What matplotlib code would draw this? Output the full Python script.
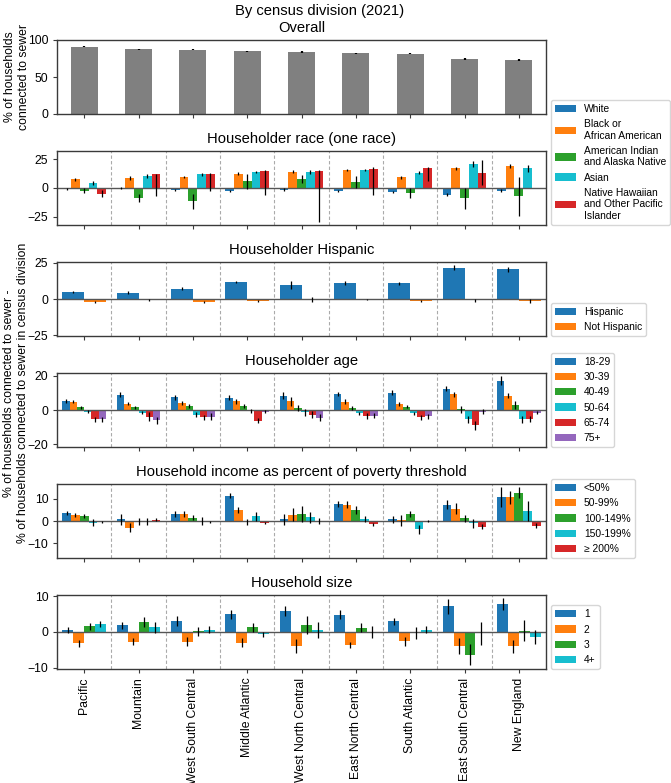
import numpy as np
import matplotlib
matplotlib.use("Agg")
import matplotlib.pyplot as plt

plt.rcParams['font.family'] = ['Liberation Sans', 'DejaVu Sans']
plt.rcParams['font.size'] = 8.85
plt.rcParams['axes.titlesize'] = 10.6
plt.rcParams['axes.unicode_minus'] = True

divisions = ["Pacific", "Mountain", "West South Central", "Middle Atlantic",
             "West North Central", "East North Central", "South Atlantic",
             "East South Central", "New England"]

overall = [91.0, 87.5, 87.0, 84.5, 84.0, 82.0, 81.5, 74.5, 72.5]
overall_err = [0.8, 0.8, 0.8, 0.8, 1.3, 0.8, 0.8, 1.2, 1.2]

race_labels = ["White", "Black or\nAfrican American", "American Indian\nand Alaska Native",
               "Asian", "Native Hawaiian\nand Other Pacific\nIslander"]
race_white = [-1.0, -0.3, -2.0, -2.9, -1.4, -2.9, -3.4, -5.7, -2.3]
race_black = [7.5, 8.6, 9.5, 12.6, 14.4, 15.8, 9.2, 17.2, 19.3]
race_aian = [-2.3, -8.6, -11.5, 5.7, 7.8, 5.2, -4.3, -8.9, -7.2]
race_asian = [4.5, 10.6, 11.8, 14.1, 13.8, 15.8, 13.5, 20.7, 17.2]
race_nhpi = [-5.0, 12.1, 12.1, 14.7, 15.2, 16.7, 17.2, 13.5, np.nan]
race_white_err = [0.6, 0.8, 1.0, 1.0, 1.0, 1.0, 1.0, 1.5, 1.0]
race_black_err = [1.0, 2.0, 1.2, 1.0, 1.0, 0.8, 1.0, 1.5, 2.0]
race_aian_err = [2.0, 3.5, 6.5, 6.6, 3.7, 5.0, 4.0, 9.0, 17.0]
race_asian_err = [1.5, 2.0, 1.0, 1.0, 2.0, 1.0, 1.5, 2.5, 3.0]
race_nhpi_err_lo = [3.0, 19.3, 15.0, 21.0, 44.8, 23.0, 11.5, 11.2, np.nan]
race_nhpi_err_hi = [3.0, 0.4, 0.9, 0.8, 0.8, 1.3, 1.3, 11.2, np.nan]

hisp_labels = ["Hispanic", "Not Hispanic"]
hisp_yes = [4.9, 4.2, 7.2, 11.8, 9.7, 11.1, 10.9, 21.6, 20.6]
hisp_no = [-1.9, -0.9, -2.1, -1.4, -0.3, -0.2, -1.4, -0.9, -1.4]
hisp_yes_err = [0.8, 1.0, 1.0, 0.8, 3.0, 1.2, 1.0, 1.8, 1.8]
hisp_no_err = [0.8, 0.8, 1.0, 0.8, 1.5, 0.5, 1.0, 1.0, 1.3]

age_labels = ["18-29", "30-39", "40-49", "50-64", "65-74", "75+"]
age_18 = [5.3, 8.8, 7.3, 7.1, 8.2, 9.2, 10.0, 12.4, 17.0]
age_30 = [4.9, 3.7, 4.1, 5.1, 5.1, 4.7, 3.5, 9.2, 8.2]
age_40 = [1.6, 1.6, 2.2, 2.4, 1.2, 1.2, 2.0, 0.4, 2.9]
age_50 = [-1.0, -1.6, -2.7, -0.5, -1.4, -2.0, -2.0, -5.3, -5.3]
age_65 = [-5.5, -3.9, -4.3, -6.3, -2.7, -3.5, -4.3, -9.0, -5.3]
age_75 = [-5.3, -5.9, -3.9, -1.0, -4.5, -3.3, -3.7, -1.0, -1.6]
age_18_err = [1.0, 1.5, 1.5, 1.5, 2.0, 1.0, 1.5, 1.5, 2.5]
age_30_err = [0.8, 1.0, 1.0, 1.5, 2.5, 1.5, 1.0, 1.5, 1.5]
age_40_err = [0.8, 1.0, 1.0, 1.0, 1.5, 1.0, 1.0, 2.0, 2.5]
age_50_err = [1.0, 1.0, 1.5, 1.0, 2.0, 1.0, 1.0, 2.0, 2.0]
age_65_err = [1.5, 2.5, 1.5, 1.5, 2.0, 1.5, 1.5, 2.5, 1.8]
age_75_err = [1.5, 2.0, 2.0, 1.0, 2.0, 1.5, 1.5, 1.5, 1.0]

inc_labels = ["<50%", "50-99%", "100-149%", "150-199%", "\u2265 200%"]
inc_50 = [3.5, 0.8, 3.1, 11.5, 0.8, 7.7, 0.8, 7.4, 10.8]
inc_99 = [2.8, -3.1, 3.1, 5.0, 2.8, 7.4, 0.3, 5.5, 10.8]
inc_149 = [2.3, -0.3, 1.5, -0.5, 3.1, 5.0, 3.1, 1.2, 12.8]
inc_199 = [-0.8, -0.3, 0.0, 2.1, 1.7, 0.9, -3.7, -1.1, 4.6]
inc_200 = [-0.6, 0.6, -0.6, -0.9, 0.0, -1.5, 0.0, -2.6, -2.2]
inc_50_err = [1.0, 2.5, 1.5, 1.2, 2.5, 1.2, 1.5, 2.0, 4.5]
inc_99_err = [1.0, 2.0, 1.5, 1.5, 3.0, 1.5, 2.5, 2.5, 3.0]
inc_149_err = [1.0, 1.5, 1.2, 1.5, 3.5, 1.8, 1.5, 1.5, 2.5]
inc_199_err = [1.5, 1.5, 2.0, 2.0, 2.5, 1.5, 2.0, 2.0, 4.5]
inc_200_err = [0.5, 0.6, 0.5, 0.5, 1.5, 0.8, 0.5, 1.2, 1.2]

size_labels = ["1", "2", "3", "4+"]
size_1 = [0.5, 1.9, 3.1, 5.0, 5.9, 4.9, 3.0, 7.2, 7.8]
size_2 = [-3.2, -2.7, -2.7, -3.0, -4.0, -3.7, -2.6, -3.9, -4.0]
size_3 = [1.6, 2.8, 0.2, 1.3, 1.9, 1.2, -0.3, -6.4, 0.4]
size_4 = [2.3, 1.3, 0.6, -0.7, 0.5, 0.0, 0.6, -0.4, -1.4]
size_1_err = [0.8, 1.0, 1.3, 1.3, 1.5, 1.3, 1.0, 2.2, 1.7]
size_2_err = [1.0, 1.0, 1.2, 1.2, 2.0, 0.8, 1.2, 2.3, 1.8]
size_3_err = [1.0, 1.5, 1.2, 1.3, 2.5, 1.2, 1.6, 3.0, 3.0]
size_4_err = [0.8, 1.5, 1.0, 0.8, 2.2, 1.7, 1.0, 3.2, 2.0]

C = ["#1f77b4", "#ff7f0e", "#2ca02c", "#17becf", "#d62728", "#9467bd"]

W, H = 671, 783
fig = plt.figure(figsize=(W / 100, H / 100), dpi=100)
LEFT, RIGHT = 57, 546
LEG_FS = 7.4


def rect(top, bottom):
    return [LEFT / W, 1 - bottom / H, (RIGHT - LEFT) / W, (bottom - top) / H]


tops = [40, 151, 262, 373, 484, 595]
hgt = 74
axes = [fig.add_axes(rect(t, t + hgt)) for t in tops]
x = np.arange(len(divisions))


def style(ax, last=False):
    for s in ax.spines.values():
        s.set_color("#3a3a3a")
        s.set_linewidth(1.0)
    ax.tick_params(length=3.2, width=0.8, color="#3a3a3a", labelsize=8.85, pad=3.0)
    ax.set_xlim(-0.5, len(divisions) - 0.5)
    ax.set_xticks(x)
    if last:
        ax.set_xticklabels(divisions, rotation=90)
    else:
        ax.set_xticklabels([])


# Overall
ax = axes[0]
ax.bar(x, overall, width=0.5, color="#808080", zorder=2)
ax.errorbar(x, overall, yerr=overall_err, fmt="none", ecolor="black", elinewidth=1.6, zorder=3)
ax.set_ylim(0, 100)
ax.set_yticks([0, 50, 100])
ax.set_title("Overall")
style(ax)


def grouped(ax, series, errs, labels, ylim, yticks, title, last=False):
    n = len(series)
    w = 0.8 / n
    for i, (vals, err) in enumerate(zip(series, errs)):
        pos = x - 0.4 + w * (i + 0.5)
        vals = np.array(vals, dtype=float)
        ax.bar(pos, vals, width=w, color=C[i], label=labels[i], zorder=2)
        if isinstance(err, tuple):
            yerr = np.array([err[0], err[1]], dtype=float)
        else:
            yerr = np.array(err, dtype=float)
        ax.errorbar(pos, vals, yerr=yerr, fmt="none", ecolor="black", elinewidth=0.9, zorder=3)
    for b in np.arange(0.5, len(divisions) - 1, 1.0):
        ax.axvline(b, color="#aaaaaa", ls=(0, (3, 2)), lw=0.8, zorder=1)
    ax.axhline(0, color="#555555", lw=1.0, zorder=2.5)
    ax.set_ylim(-ylim, ylim)
    ax.set_yticks(yticks)
    ax.set_title(title)
    style(ax, last)
    ax.legend(loc="lower left", bbox_to_anchor=(1.01, 0), borderaxespad=0,
              fontsize=LEG_FS)


grouped(axes[1], [race_white, race_black, race_aian, race_asian, race_nhpi],
        [race_white_err, race_black_err, race_aian_err, race_asian_err,
         (race_nhpi_err_lo, race_nhpi_err_hi)],
        race_labels, 32.3, [-25, 0, 25], "Householder race (one race)")
grouped(axes[2], [hisp_yes, hisp_no], [hisp_yes_err, hisp_no_err],
        hisp_labels, 25.6, [-25, 0, 25], "Householder Hispanic")
grouped(axes[3], [age_18, age_30, age_40, age_50, age_65, age_75],
        [age_18_err, age_30_err, age_40_err, age_50_err, age_65_err, age_75_err],
        age_labels, 21.5, [-20, 0, 20], "Householder age")
grouped(axes[4], [inc_50, inc_99, inc_149, inc_199, inc_200],
        [inc_50_err, inc_99_err, inc_149_err, inc_199_err, inc_200_err],
        inc_labels, 16.8, [-10, 0, 10], "Household income as percent of poverty threshold")
grouped(axes[5], [size_1, size_2, size_3, size_4],
        [size_1_err, size_2_err, size_3_err, size_4_err],
        size_labels, 10.4, [-10, 0, 10], "Household size", last=True)

fig.text(320 / W, 1 - 11 / H, "By census division (2021)", ha="center", va="center", fontsize=10.6)
fig.text(17 / W, 1 - 77 / H, "% of households\nconnected to sewer", rotation=90,
         ha="center", va="center", multialignment="center", fontsize=8.85)
fig.text(16 / W, 1 - 393 / H,
         "% of households connected to sewer -\n% of households connected to sewer in census division",
         rotation=90, ha="center", va="center", multialignment="center", fontsize=8.85)

fig.savefig("out.png", dpi=100)
